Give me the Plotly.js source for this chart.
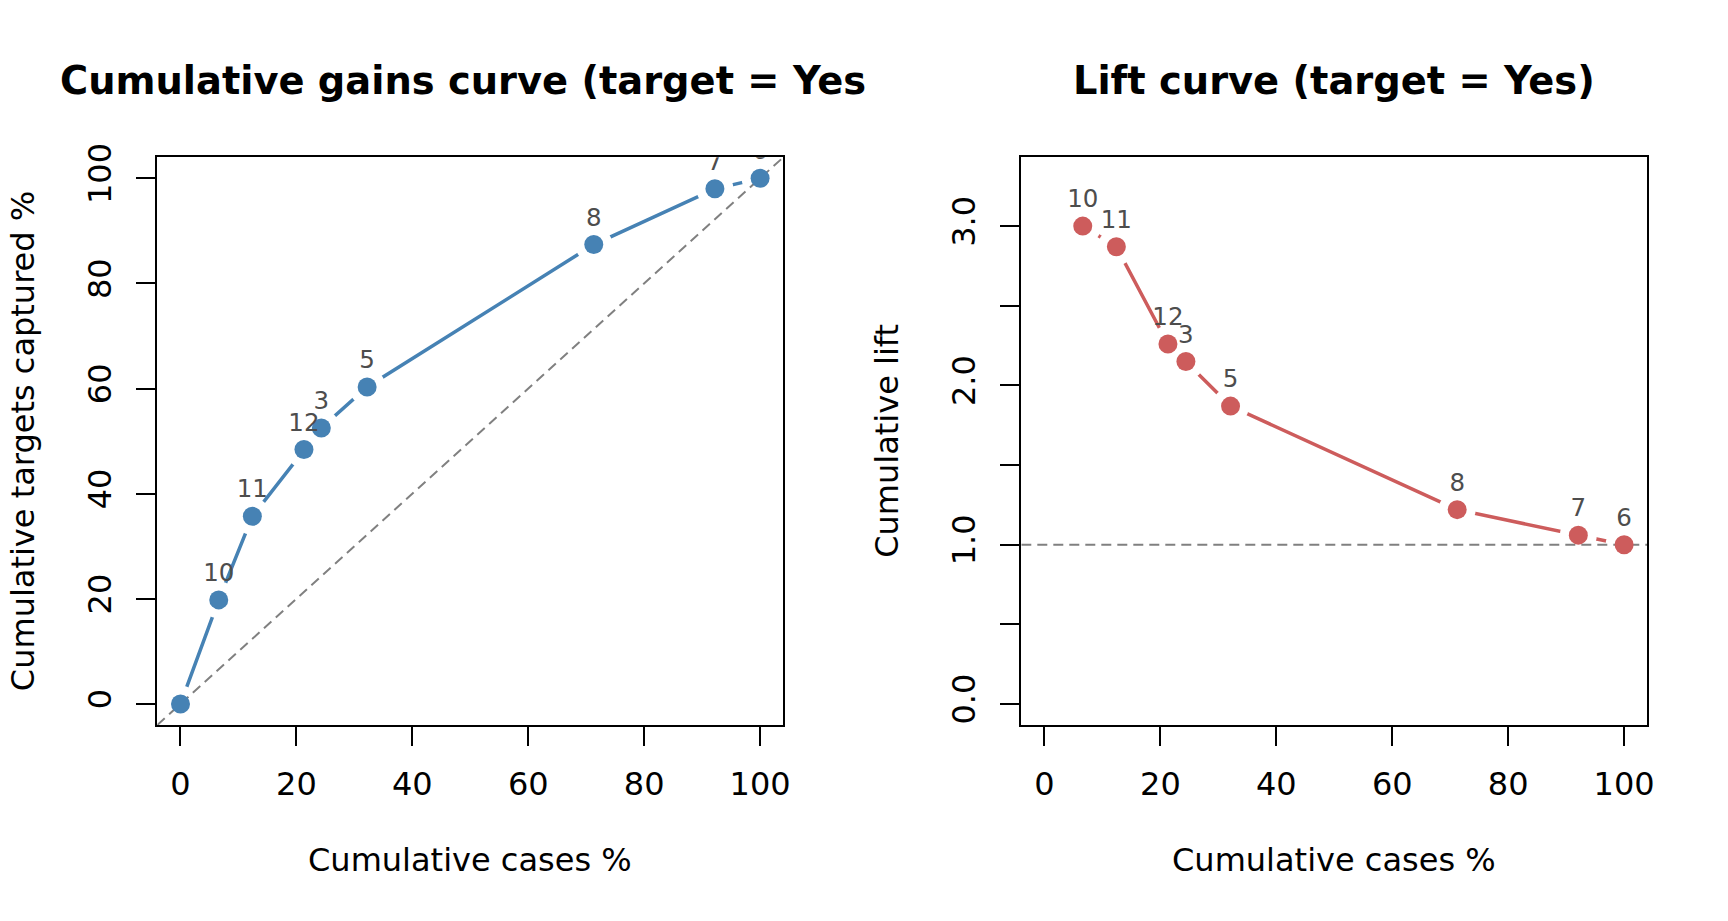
<!DOCTYPE html>
<html>
<head>
<meta charset="utf-8">
<script src="https://cdn.plot.ly/plotly-3.0.1.min.js"></script>
<style>
  html, body { margin: 0; padding: 0; background: #fff; }
  #chart { width: 1728px; height: 921px; }
</style>
</head>
<body>
<div id="chart"></div>
<script>
// ── Data ──

// cumulative gains: leading origin point has no label
var gainLabels = ['', '10', '11', '12', '3', '5', '8', '7', '6'];
var gainCasesPct = [0, 6.6, 12.4, 21.3, 24.3, 32.2, 71.3, 92.2, 100];
var gainTargetsPct = [0, 19.8, 35.7, 48.4, 52.5, 60.3, 87.4, 98.0, 100];

// cumulative lift
var liftLabels = ['10', '11', '12', '3', '5', '8', '7', '6'];
var liftCasesPct = [6.6, 12.4, 21.3, 24.4, 32.1, 71.2, 92.1, 100];
var liftValues = [3.00, 2.87, 2.26, 2.15, 1.87, 1.22, 1.06, 1.00];

var casesTicks = [0, 20, 40, 60, 80, 100];
var gainTicks = [0, 20, 40, 60, 80, 100];
var liftTickVals = [0, 0.5, 1, 1.5, 2, 2.5, 3];
var liftTickText = ['0.0', '', '1.0', '', '2.0', '', '3.0'];

var BASELINE_LIFT = 1;

(function () {
  'use strict';

  var W = 1728, H = 921;
  var FONT = 'DejaVu Sans, sans-serif';
  var COLORS = {
    blue: '#4682B4',   // steelblue
    red: '#CD5C5C',    // indianred
    ref: '#808080',
    label: '#4D4D4D',
    ink: '#000000',
  };

  // R pads the data range by 4% on each side
  var CASES_RANGE = [-4, 104];
  var GAIN_RANGE = [-4, 104];
  var LIFT_RANGE = [-0.132, 3.432];

  // panel boxes in pixels, converted to paper fractions
  function px(x) { return x / W; }
  function py(y) { return 1 - y / H; }
  var BOX_TOP = 157.3, BOX_BOTTOM = 725;
  var LEFT_BOX = [157.3, 783.3];
  var RIGHT_BOX = [1021.3, 1647.3];

  function axisBase() {
    return {
      showline: true,
      mirror: true,
      linecolor: COLORS.ink,
      linewidth: 2,
      ticks: 'outside',
      ticklen: 19,
      tickwidth: 2,
      tickcolor: COLORS.ink,
      showgrid: false,
      zeroline: false,
      fixedrange: true,
      tickfont: { family: FONT, size: 32, color: COLORS.ink },
    };
  }

  // type="b" style: line, white halo to open gaps round the points,
  // reference line, then the points with their labels on top
  function seriesTraces(xs, ys, labels, color, xa, ya, ref) {
    var line = {
      x: xs, y: ys, xaxis: xa, yaxis: ya,
      mode: 'lines',
      line: { color: color, width: 3.5 },
      cliponaxis: true,
      hoverinfo: 'skip',
    };
    var halo = {
      x: xs, y: ys, xaxis: xa, yaxis: ya,
      mode: 'markers',
      marker: { color: '#ffffff', size: 37, line: { width: 0 } },
      cliponaxis: true,
      hoverinfo: 'skip',
    };
    var pts = {
      x: xs, y: ys, xaxis: xa, yaxis: ya,
      mode: 'markers+text',
      text: labels,
      textposition: 'top center',
      textfont: { family: FONT, size: 24.5, color: COLORS.label },
      marker: { color: color, size: 19, line: { width: 0 } },
      cliponaxis: true,
      hoverinfo: 'skip',
    };
    return [line, halo, ref, pts];
  }

  var diagonal = {
    x: CASES_RANGE, y: GAIN_RANGE, xaxis: 'x', yaxis: 'y',
    mode: 'lines',
    line: { color: COLORS.ref, width: 2, dash: '10px,6px' },
    hoverinfo: 'skip',
  };
  var baseline = {
    x: CASES_RANGE, y: [BASELINE_LIFT, BASELINE_LIFT], xaxis: 'x2', yaxis: 'y2',
    mode: 'lines',
    line: { color: COLORS.ref, width: 2, dash: '10px,6px' },
    hoverinfo: 'skip',
  };

  var traces = seriesTraces(gainCasesPct, gainTargetsPct, gainLabels, COLORS.blue, 'x', 'y', diagonal)
    .concat(seriesTraces(liftCasesPct, liftValues, liftLabels, COLORS.red, 'x2', 'y2', baseline));

  var yDomain = [py(BOX_BOTTOM), py(BOX_TOP)];

  var xaxis = Object.assign(axisBase(), {
    domain: [px(LEFT_BOX[0]), px(LEFT_BOX[1])], anchor: 'y',
    range: CASES_RANGE, tickmode: 'array', tickvals: casesTicks,
    ticklabelstandoff: 11,
  });
  var yaxis = Object.assign(axisBase(), {
    domain: yDomain, anchor: 'x',
    range: GAIN_RANGE, tickmode: 'array', tickvals: gainTicks,
    tickangle: -90, ticklabelstandoff: 13,
  });
  var xaxis2 = Object.assign(axisBase(), {
    domain: [px(RIGHT_BOX[0]), px(RIGHT_BOX[1])], anchor: 'y2',
    range: CASES_RANGE, tickmode: 'array', tickvals: casesTicks,
    ticklabelstandoff: 11,
  });
  var yaxis2 = Object.assign(axisBase(), {
    domain: yDomain, anchor: 'x2',
    range: LIFT_RANGE, tickmode: 'array', tickvals: liftTickVals, ticktext: liftTickText,
    tickangle: -90, ticklabelstandoff: 13,
  });

  function text(str, x, y, size, opts) {
    return Object.assign({
      text: str, xref: 'paper', yref: 'paper', x: x, y: y,
      showarrow: false, xanchor: 'center', yanchor: 'middle',
      font: { family: FONT, size: size, color: COLORS.ink },
    }, opts || {});
  }

  var midY = py((BOX_TOP + BOX_BOTTOM) / 2);
  var annotations = [
    // left title runs past its panel in the reference and is cut there
    text('<b>Cumulative gains curve (target = Yes</b>', px(58), py(80), 38.4, { xanchor: 'left' }),
    text('<b>Lift curve (target = Yes)</b>', px((RIGHT_BOX[0] + RIGHT_BOX[1]) / 2), py(80), 38.4),
    text('Cumulative cases %', px((LEFT_BOX[0] + LEFT_BOX[1]) / 2), py(860), 32),
    text('Cumulative cases %', px((RIGHT_BOX[0] + RIGHT_BOX[1]) / 2), py(860), 32),
    text('Cumulative targets captured %', px(23), midY, 32, { textangle: -90 }),
    text('Cumulative lift', px(887.6), midY, 32, { textangle: -90 }),
  ];

  var layout = {
    width: W, height: H,
    margin: { t: 0, r: 0, b: 0, l: 0 },
    paper_bgcolor: '#ffffff',
    plot_bgcolor: '#ffffff',
    showlegend: false,
    hovermode: false,
    font: { family: FONT, color: COLORS.ink },
    xaxis: xaxis, yaxis: yaxis, xaxis2: xaxis2, yaxis2: yaxis2,
    annotations: annotations,
  };

  Plotly.newPlot('chart', traces, layout, { displayModeBar: false, staticPlot: true });
})();
</script>
</body>
</html>
